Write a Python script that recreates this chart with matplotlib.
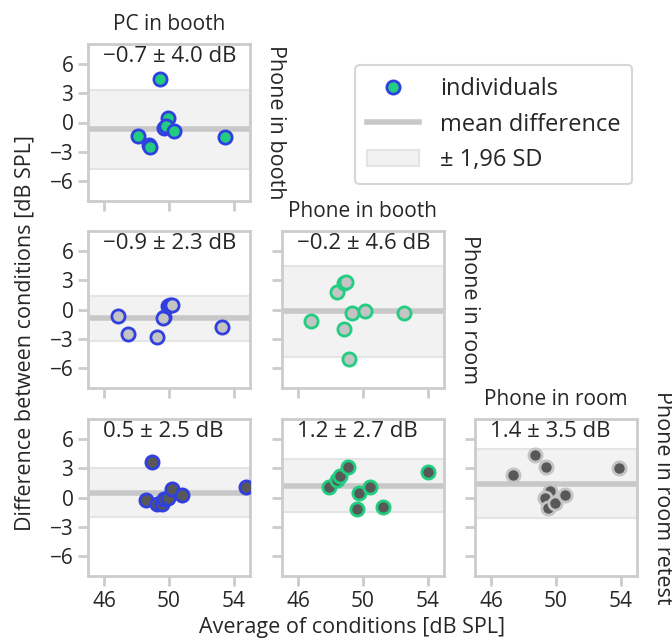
import numpy as np
import matplotlib
matplotlib.use("Agg")
from matplotlib import pyplot as plt
from matplotlib.lines import Line2D
from matplotlib.patches import Patch

plt.rcParams["font.family"] = ["Open Sans", "DejaVu Sans"]

# conditions and their colours
conditions = ["PC in booth", "Phone in booth", "Phone in room", "Phone in room retest"]
cond_colors = ["#3040e0", "#22cc80", "#c4c4c4", "#585858"]

# panels of the lower triangle: (row, col) -> row condition = row + 1, col condition = col
panels = [(0, 0), (1, 0), (1, 1), (2, 0), (2, 1), (2, 2)]

# x = average of conditions, y = difference
avg_vals = [
    [49.43, 49.95, 49.72, 49.82, 50.30, 48.06, 48.75, 48.80, 53.47],
    [46.88, 47.46, 49.29, 49.68, 49.62, 49.93, 50.09, 50.16, 53.30],
    [46.80, 48.42, 48.85, 48.93, 49.35, 50.11, 48.83, 49.12, 52.51],
    [48.93, 48.56, 49.27, 49.54, 49.71, 49.95, 50.19, 50.81, 54.78],
    [47.89, 48.42, 48.61, 49.08, 49.76, 50.43, 49.63, 51.24, 54.00],
    [47.34, 48.69, 49.40, 49.61, 49.32, 49.49, 49.93, 50.53, 53.88],
]
diff_vals = [
    [4.48, 0.47, -0.51, -0.40, -0.85, -1.36, -2.30, -2.50, -1.47],
    [-0.67, -2.48, -2.83, -0.80, -0.87, 0.37, 0.44, 0.50, -1.82],
    [-1.14, 1.82, 2.67, 2.83, -0.33, -0.16, -1.98, -5.08, -0.33],
    [3.60, -0.24, -0.71, -0.71, -0.17, 0.00, 0.85, 0.27, 1.12],
    [1.12, 1.77, 2.20, 3.12, 0.47, 1.12, -1.22, -0.92, 2.61],
    [2.28, 4.29, 3.12, 0.71, -0.07, -1.12, -0.55, 0.27, 2.96],
]
mean_diff = [-0.7, -0.9, -0.2, 0.5, 1.2, 1.4]
limits = [4.0, 2.3, 4.6, 2.5, 2.7, 3.5]

xticks = [46, 50, 54]
yticks = [-6, -3, 0, 3, 6]

W, H = 672, 641
fig = plt.figure(figsize=(W / 100, H / 100), dpi=100)

col_left = [88, 282, 475]
row_top = [44, 231, 419]
aw, ah = 162, 157

spine_c = "#cccccc"
text_c = "#262626"
fs = 15

for k, (r, c) in enumerate(panels):
    ax = fig.add_axes([col_left[c] / W, 1 - (row_top[r] + ah) / H, aw / W, ah / H])
    ax.axhspan(mean_diff[k] - limits[k], mean_diff[k] + limits[k],
               facecolor="#f2f2f2", edgecolor="#e4e4e4", lw=1.5, zorder=0)
    ax.axhline(mean_diff[k], color="#c8c8c8", lw=4, zorder=1)
    ax.plot(avg_vals[k], diff_vals[k], "o", ms=9.5, mfc=cond_colors[r + 1],
            mec=cond_colors[c], mew=2, zorder=3)
    sign = "\u2212" if mean_diff[k] < 0 else ""
    ax.text(45.95, 6.2, f"{sign}{abs(mean_diff[k]):.1f} \u00b1 {limits[k]:.1f} dB",
            ha="left", va="baseline", fontsize=16, color=text_c)
    ax.set_xlim(45, 55)
    ax.set_ylim(-8, 8)
    ax.set_xticks(xticks)
    ax.set_yticks(yticks)
    ax.set_yticklabels([str(v).replace("-", "\u2212") for v in yticks])
    for s in ax.spines.values():
        s.set_color(spine_c)
        s.set_linewidth(2)
    ax.tick_params(colors=spine_c, labelcolor=text_c, labelsize=fs,
                   length=7, width=2, direction="out")
    if c != 0:
        ax.tick_params(labelleft=False)
    if r != 2:
        ax.tick_params(labelbottom=False)
    if r == c:
        ax.set_title(conditions[c], fontsize=fs, color=text_c, pad=10)
        ax.text(1.16, 0.5, conditions[r + 1], transform=ax.transAxes,
                rotation=-90, ha="center", va="center", fontsize=fs + 0.5, color=text_c)

fig.text(25 / W, 1 - 333 / H, "Difference between conditions [dB SPL]",
         rotation=90, ha="center", va="center", fontsize=fs + 0.5, color=text_c)
fig.text(352 / W, 1 - 628 / H, "Average of conditions [dB SPL]",
         ha="center", va="center", fontsize=fs + 0.5, color=text_c)

handles = [
    Line2D([], [], ls="none", marker="o", ms=9.5, mfc=cond_colors[1],
           mec=cond_colors[0], mew=2),
    Line2D([], [], color="#c8c8c8", lw=4),
    Patch(facecolor="#f2f2f2", edgecolor="#e4e4e4", lw=1.5),
]
leg = fig.legend(handles, ["individuals", "mean difference", "\u00b1 1,96 SD"],
                 loc="upper left", bbox_to_anchor=(355 / W, 1 - 65 / H),
                 borderaxespad=0, fontsize=17, frameon=True, handlelength=2.2,
                 borderpad=0.5, labelspacing=0.5, handletextpad=0.9)
for t in leg.get_texts():
    t.set_color(text_c)
leg.get_frame().set_edgecolor(spine_c)
leg.get_frame().set_linewidth(1.5)

fig.savefig("out.png", dpi=100)
